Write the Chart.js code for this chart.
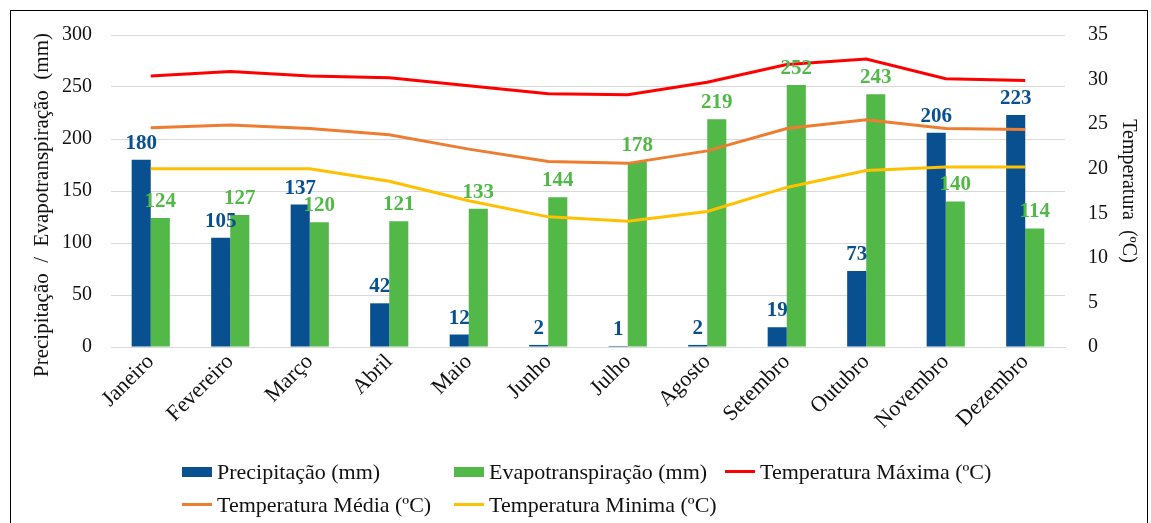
<!DOCTYPE html>
<html>
<head>
<meta charset="utf-8">
<script src="https://cdn.jsdelivr.net/npm/chart.js@4/dist/chart.umd.min.js"></script>
<style>
  html, body { margin: 0; padding: 0; background: #fff; overflow: hidden; }
  #wrap { position: relative; width: 1151px; height: 523px; }
  #frame { position: absolute; left: 10px; top: 10px; width: 1136px; height: 600px;
           border: 1.5px solid #000; pointer-events: none; }
  canvas { position: absolute; left: 0; top: 0; }
  .leg { position: absolute; font-family: 'Liberation Serif', 'Times New Roman', serif;
         font-size: 22px; color: #111; white-space: nowrap; line-height: 24px; }
  .sw { display: inline-block; width: 30px; vertical-align: middle; margin-right: 5px; position: relative; top: -2px; }
  .sw.bar { height: 10px; }
  .sw.line { height: 3px; }
</style>
</head>
<body>
<div id="wrap">
  <canvas id="climaChart" width="1151" height="523"></canvas>
  <div id="legend"></div>
  <div id="frame"></div>
</div>
<script>
// Dados mensais
const meses = ['Janeiro', 'Fevereiro', 'Março', 'Abril', 'Maio', 'Junho',
               'Julho', 'Agosto', 'Setembro', 'Outubro', 'Novembro', 'Dezembro'];
const precipitacao = [180, 105, 137, 42, 12, 2, 1, 2, 19, 73, 206, 223];
const evapotranspiracao = [124, 127, 120, 121, 133, 144, 178, 219, 252, 243, 140, 114];
const tempMaxima = [30.4, 30.9, 30.4, 30.2, 29.3, 28.4, 28.3, 29.7, 31.7, 32.3, 30.1, 29.9];
const tempMedia = [24.6, 24.9, 24.5, 23.8, 22.2, 20.8, 20.6, 22.0, 24.5, 25.5, 24.5, 24.4];
const tempMinima = [20.0, 20.0, 20.0, 18.6, 16.4, 14.6, 14.1, 15.2, 17.9, 19.8, 20.2, 20.2];
const mmTicks = [0, 50, 100, 150, 200, 250, 300];
const tempTicks = [0, 5, 10, 15, 20, 25, 30, 35];

const AZUL = '#08508f';
const VERDE = '#52b848';
const SERIF = "'Liberation Serif', 'Times New Roman', serif";

Chart.defaults.font.family = SERIF;
Chart.defaults.color = '#111';

// Rótulos de valor sobre as barras + título do eixo esquerdo
const rotulosPlugin = {
    id: 'rotulos',
    afterDatasetsDraw(chart) {
        const ctx = chart.ctx;
        ctx.save();
        ctx.font = 'bold 21px ' + SERIF;
        ctx.textAlign = 'center';
        ctx.textBaseline = 'alphabetic';
        [0, 1].forEach(i => {
            const meta = chart.getDatasetMeta(i);
            const ds = chart.data.datasets[i];
            ctx.fillStyle = ds.backgroundColor;
            meta.data.forEach((bar, j) => {
                ctx.fillText(ds.data[j], bar.x, bar.y - 11);
            });
        });
        // título do eixo esquerdo
        ctx.font = '21px ' + SERIF;
        ctx.fillStyle = '#111';
        ctx.translate(42, 205);
        ctx.rotate(-Math.PI / 2);
        ctx.textBaseline = 'middle';
        ctx.fillText('Precipitação  /  Evapotranspiração  (mm)', 0, 0);
        ctx.restore();
    }
};

const ctx = document.getElementById('climaChart').getContext('2d');
const climaChart = new Chart(ctx, {
    type: 'bar',
    data: {
        labels: meses,
        datasets: [{
            label: 'Precipitação (mm)',
            data: precipitacao,
            backgroundColor: AZUL,
            yAxisID: 'y',
            order: 1
        }, {
            label: 'Evapotranspiração (mm)',
            data: evapotranspiracao,
            backgroundColor: VERDE,
            yAxisID: 'y',
            order: 1
        }, {
            type: 'line',
            label: 'Temperatura Máxima (ºC)',
            data: tempMaxima,
            borderColor: '#ff0000',
            backgroundColor: '#ff0000',
            borderWidth: 3,
            pointRadius: 0,
            yAxisID: 'y1',
            order: 0
        }, {
            type: 'line',
            label: 'Temperatura Média (ºC)',
            data: tempMedia,
            borderColor: '#ed7d31',
            backgroundColor: '#ed7d31',
            borderWidth: 3,
            pointRadius: 0,
            yAxisID: 'y1',
            order: 0
        }, {
            type: 'line',
            label: 'Temperatura Minima (ºC)',
            data: tempMinima,
            borderColor: '#ffc000',
            backgroundColor: '#ffc000',
            borderWidth: 3,
            pointRadius: 0,
            yAxisID: 'y1',
            order: 0
        }]
    },
    options: {
        responsive: false,
        animation: false,
        layout: { padding: { top: 31, right: 0, bottom: 76, left: 0 } },
        datasets: {
            bar: { categoryPercentage: 0.48, barPercentage: 1 }
        },
        plugins: {
            legend: { display: false },
            tooltip: { enabled: false }
        },
        scales: {
            x: {
                grid: { display: false },
                border: { display: true, color: '#d9d9d9' },
                ticks: {
                    autoSkip: false,
                    minRotation: 45,
                    maxRotation: 45,
                    padding: -6,
                    font: { size: 22 }
                },
                afterFit(scale) { scale.height = 100; }
            },
            y: {
                position: 'left',
                min: 0,
                max: 300,
                afterBuildTicks(scale) { scale.ticks = mmTicks.map(v => ({ value: v })); },
                grid: { color: '#d9d9d9', drawTicks: false },
                border: { display: false },
                ticks: { padding: 19, font: { size: 20 } },
                afterFit(scale) { scale.width = 111; }
            },
            y1: {
                position: 'right',
                min: 0,
                max: 35,
                afterBuildTicks(scale) { scale.ticks = tempTicks.map(v => ({ value: v })); },
                grid: { display: false, drawTicks: false },
                border: { display: false },
                ticks: { padding: 23, font: { size: 20 } },
                title: {
                    display: true,
                    text: 'Temperatura  (ºC)',
                    font: { size: 20 },
                    padding: { top: 11 }
                },
                afterFit(scale) { scale.width = 86; }
            }
        }
    },
    plugins: [rotulosPlugin]
});

// Legenda em HTML (grade de 3 colunas como no original)
const legendaCols = [182, 454, 725];
const legendaRows = [472, 505];
const legendaTipos = ['bar', 'bar', 'line', 'line', 'line'];
const legendBox = document.getElementById('legend');
climaChart.data.datasets.forEach((ds, i) => {
    const item = document.createElement('div');
    item.className = 'leg';
    item.style.left = legendaCols[i % 3] + 'px';
    item.style.top = (legendaRows[Math.floor(i / 3)] - 12) + 'px';
    const sw = document.createElement('span');
    sw.className = 'sw ' + legendaTipos[i];
    sw.style.background = ds.backgroundColor;
    item.appendChild(sw);
    item.appendChild(document.createTextNode(ds.label));
    legendBox.appendChild(item);
});
</script>
</body>
</html>
